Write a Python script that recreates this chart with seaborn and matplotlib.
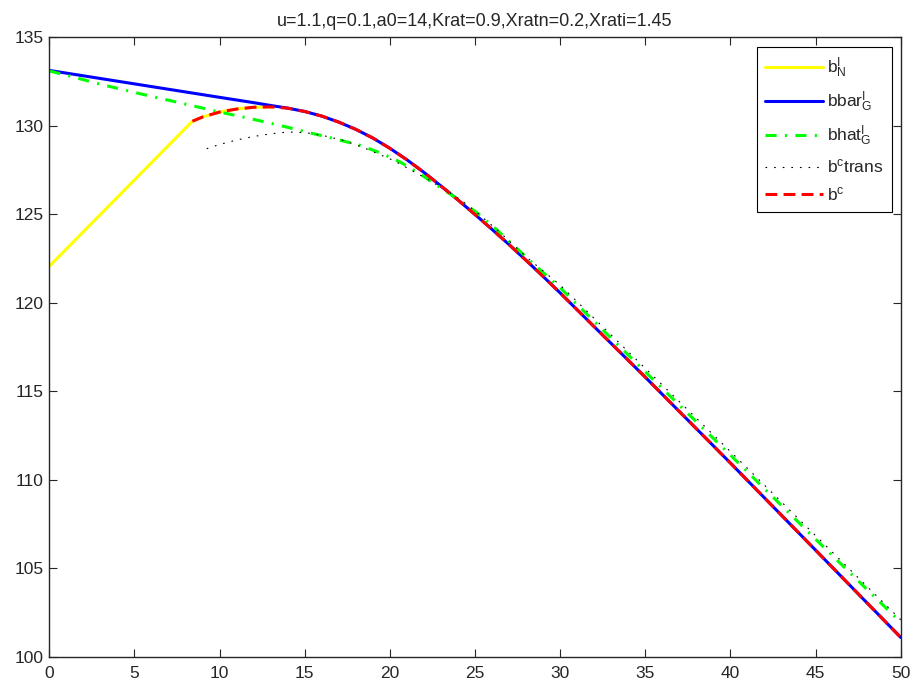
import numpy as np
import matplotlib
matplotlib.use("Agg")
import matplotlib.pyplot as plt
import seaborn as sns

# b_N^I (jaune)
x_bn = [0, 8.4, 9, 10, 11, 12, 13]
y_bn = [122.07, 130.26, 130.5, 130.78, 130.95, 131.05, 131.07]

# bbar_G^I (bleu)
x_bbar = [0, 5, 10, 12, 13, 14, 15, 16, 17, 18, 19, 20, 21, 22, 23, 24, 25, 26, 27, 28, 29, 30,
          32, 35, 40, 45, 50]
y_bbar = [133.13, 132.37, 131.61, 131.31, 131.15, 131.0, 130.81, 130.55, 130.21, 129.8, 129.31,
          128.73, 128.08, 127.37, 126.6, 125.81, 124.99, 124.15, 123.29, 122.4, 121.49, 120.56,
          118.65, 115.8, 110.95, 106.03, 101.1]

# bhat_G^I (vert)
x_bhat = [0, 1.4, 3, 5.3, 8.3, 10, 11.8, 13.9, 15.1, 16.5, 18.25, 19.5, 20.6, 21.7, 22.75, 24,
          25.1, 26.2, 27.25, 28.5, 30, 35, 40, 45, 50]
y_bhat = [133.1, 132.76, 132.35, 131.82, 131.16, 130.78, 130.41, 129.94, 129.65, 129.33, 128.9,
          128.45, 127.96, 127.33, 126.64, 125.86, 125.1, 124.2, 123.25, 122.15, 120.85, 116.1,
          111.4, 106.65, 101.95]

# b^c trans (noir pointillé)
x_btr = [9.24, 10, 11, 12, 13, 14, 15, 16, 17.27, 18.5, 20.2, 22.16, 23.92, 25, 26.5, 28, 30,
         35, 40, 45, 50]
y_btr = [128.71, 128.95, 129.2, 129.4, 129.55, 129.65, 129.62, 129.47, 129.18, 128.75, 128.05,
         127.02, 125.98, 125.2, 123.95, 122.6, 121.0, 116.3, 111.6, 106.85, 102.1]

# b^c (rouge)
x_bc = [8.4, 9, 10, 11, 12, 13, 14, 15, 16, 17, 18, 19, 20, 21, 22, 23, 24, 25, 26, 27, 28, 29,
        30, 32, 35, 40, 45, 50]
y_bc = [130.26, 130.5, 130.78, 130.95, 131.05, 131.07, 131.0, 130.81, 130.55, 130.21, 129.8,
        129.31, 128.73, 128.08, 127.37, 126.6, 125.81, 124.99, 124.15, 123.29, 122.4, 121.49,
        120.56, 118.65, 115.8, 110.95, 106.03, 101.1]

titre = "u=1.1,q=0.1,a0=14,Krat=0.9,Xratn=0.2,Xrati=1.45"

sns.set_style("ticks")
plt.rcParams["font.family"] = ["Liberation Sans", "DejaVu Sans"]
plt.rcParams["mathtext.fontset"] = "custom"
plt.rcParams["mathtext.rm"] = "Liberation Sans"
plt.rcParams["mathtext.it"] = "Liberation Sans"
plt.rcParams["lines.scale_dashes"] = False

fig = plt.figure(figsize=(9.14, 6.85), dpi=100)
ax = fig.add_axes([0.054, 0.041, 0.9315, 0.9045])

lw = 2.2
sns.lineplot(x=x_bn, y=y_bn, color="#ffff00", linewidth=lw, label=r"b$_N^I$", ax=ax)
sns.lineplot(x=x_bbar, y=y_bbar, color="#0000ff", linewidth=lw, label=r"bbar$_G^I$", ax=ax)
sns.lineplot(x=x_bhat, y=y_bhat, color="#00ff00", linewidth=lw, label=r"bhat$_G^I$", ax=ax)
ax.lines[-1].set_dashes([8, 6, 1.5, 6])
sns.lineplot(x=x_btr, y=y_btr, color="black", linewidth=0.8, label=r"b$^c$trans", ax=ax)
ax.lines[-1].set_dashes([1.2, 5])
sns.lineplot(x=x_bc, y=y_bc, color="#ff0000", linewidth=lw, label=r"b$^c$", ax=ax)
ax.lines[-1].set_dashes([8.5, 4.5])

ax.set_xlim(0, 50)
ax.set_ylim(100, 135)
ax.set_xticks(np.arange(0, 51, 5))
ax.set_yticks(np.arange(100, 136, 5))
ax.tick_params(direction="in", length=6, width=0.8, top=True, right=True, labelsize=12.5)
ax.tick_params(axis="x", pad=6.5)
ax.tick_params(axis="y", pad=4)
for s in ax.spines.values():
    s.set_visible(True)
    s.set_linewidth(1.0)
ax.set_title(titre, fontsize=13, pad=8.5)

leg = ax.legend(loc="upper right", fontsize=12.5, frameon=True, fancybox=False,
                edgecolor="black", framealpha=1, handlelength=3.3, handletextpad=0.25,
                labelspacing=0.55, borderpad=0.5, borderaxespad=0,
                bbox_to_anchor=(0.9898, 0.984))
leg.get_frame().set_linewidth(0.8)

fig.savefig("out.png", dpi=100)
